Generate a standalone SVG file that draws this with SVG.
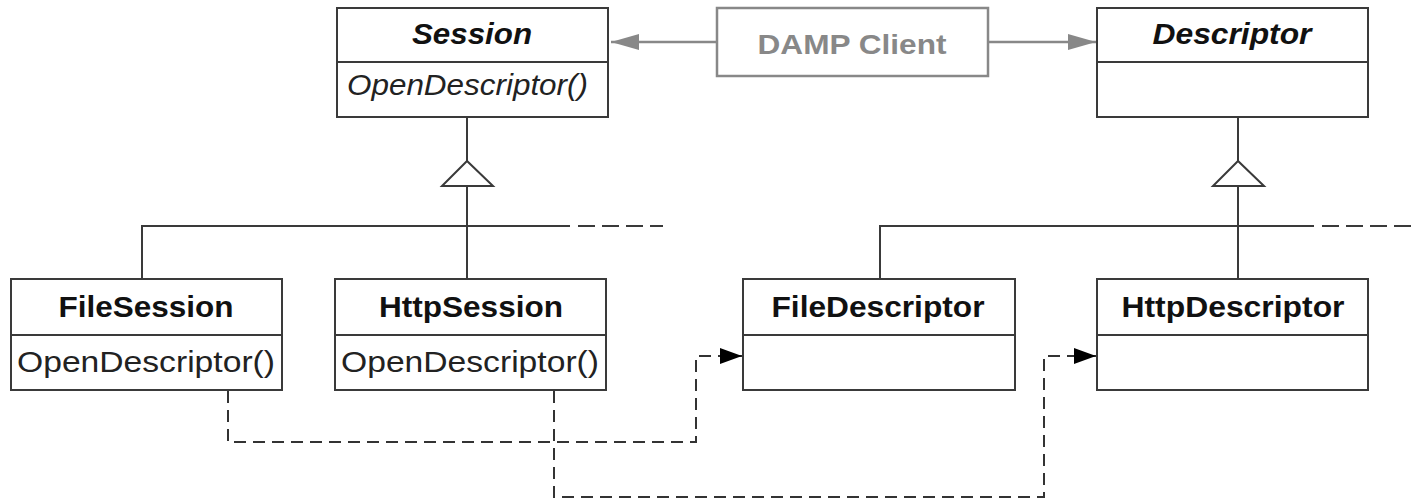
<svg xmlns="http://www.w3.org/2000/svg" width="1416" height="499" viewBox="0 0 1416 499">
<defs>
<style>
.box{fill:#fff;stroke:#3a3a3a;stroke-width:2}
.div{stroke:#3a3a3a;stroke-width:2}
.t{font-family:"Liberation Sans",Arial,sans-serif;font-size:29px;fill:#111}
.b{font-weight:bold}
.i{font-style:italic}
.op{font-family:"Liberation Sans",Arial,sans-serif;font-size:30px;fill:#222}
.gray{fill:#fff;stroke:#888;stroke-width:2.5}
.gt{font-family:"Liberation Sans",Arial,sans-serif;font-size:28px;font-weight:bold;fill:#888}
.ln{fill:none;stroke:#3a3a3a;stroke-width:2}
.dl{fill:none;stroke:#3a3a3a;stroke-width:2;stroke-dasharray:17 7}
.dd{fill:none;stroke:#333;stroke-width:2;stroke-dasharray:12 7}
.ga{fill:none;stroke:#888;stroke-width:2.5}
</style>
<marker id="gah" viewBox="0 0 10 10" refX="10" refY="5" markerWidth="28" markerHeight="16" markerUnits="userSpaceOnUse" orient="auto" preserveAspectRatio="none"><path d="M0,0L10,5L0,10z" fill="#888"/></marker>
<marker id="bah" viewBox="0 0 10 10" refX="10" refY="5" markerWidth="22" markerHeight="16" markerUnits="userSpaceOnUse" orient="auto" preserveAspectRatio="none"><path d="M0,0L10,5L0,10z" fill="#000"/></marker>
</defs>

<g id="connectors">
<path class="ga" d="M717,42H611" marker-end="url(#gah)"/>
<path class="ga" d="M988,42H1096" marker-end="url(#gah)"/>
<path class="ln" d="M467,117V161"/>
<path d="M467,161L442,186H493Z" fill="#fff" stroke="#3a3a3a" stroke-width="2"/>
<path class="ln" d="M467,186V279"/>
<path class="ln" d="M142,279V226H570"/>
<path class="dl" d="M578,226H663"/>
<path class="ln" d="M1238,117V161"/>
<path d="M1238,161L1213,186H1264Z" fill="#fff" stroke="#3a3a3a" stroke-width="2"/>
<path class="ln" d="M1238,186V279"/>
<path class="ln" d="M880,279V226H1314"/>
<path class="dl" d="M1322,226H1416"/>
<path class="dd" d="M228,391V442H696V356H742" marker-end="url(#bah)"/>
<path class="dd" d="M554,391V497H1044V356H1096" marker-end="url(#bah)"/>
</g>

<g id="session">
<rect class="box" x="337" y="8" width="271" height="109"/>
<line class="div" x1="337" y1="62" x2="608" y2="62"/>
<text class="t b i" x="472" y="44" text-anchor="middle" textLength="120" lengthAdjust="spacingAndGlyphs">Session</text>
<text class="op i" x="347" y="95" textLength="241" lengthAdjust="spacingAndGlyphs" style="font-size:29px">OpenDescriptor()</text>
</g>

<g id="damp-client">
<rect class="gray" x="717" y="8" width="271" height="68"/>
<text class="gt" x="852" y="54" text-anchor="middle" textLength="189" lengthAdjust="spacingAndGlyphs">DAMP Client</text>
</g>

<g id="descriptor">
<rect class="box" x="1097" y="8" width="271" height="109"/>
<line class="div" x1="1097" y1="62" x2="1368" y2="62"/>
<text class="t b i" x="1232" y="44" text-anchor="middle" textLength="159" lengthAdjust="spacingAndGlyphs">Descriptor</text>
</g>

<g id="file-session">
<rect class="box" x="11" y="279" width="271" height="111"/>
<line class="div" x1="11" y1="335" x2="282" y2="335"/>
<text class="t b" x="146" y="317" text-anchor="middle" textLength="175" lengthAdjust="spacingAndGlyphs">FileSession</text>
<text class="op" x="146" y="372" text-anchor="middle" textLength="258" lengthAdjust="spacingAndGlyphs">OpenDescriptor()</text>
</g>

<g id="http-session">
<rect class="box" x="335" y="279" width="271" height="111"/>
<line class="div" x1="335" y1="335" x2="606" y2="335"/>
<text class="t b" x="471" y="317" text-anchor="middle" textLength="184" lengthAdjust="spacingAndGlyphs">HttpSession</text>
<text class="op" x="470" y="372" text-anchor="middle" textLength="258" lengthAdjust="spacingAndGlyphs">OpenDescriptor()</text>
</g>

<g id="file-descriptor">
<rect class="box" x="743" y="279" width="272" height="111"/>
<line class="div" x1="743" y1="335" x2="1015" y2="335"/>
<text class="t b" x="878" y="317" text-anchor="middle" textLength="213" lengthAdjust="spacingAndGlyphs">FileDescriptor</text>
</g>

<g id="http-descriptor">
<rect class="box" x="1097" y="279" width="271" height="111"/>
<line class="div" x1="1097" y1="335" x2="1368" y2="335"/>
<text class="t b" x="1233" y="317" text-anchor="middle" textLength="223" lengthAdjust="spacingAndGlyphs">HttpDescriptor</text>
</g>
</svg>
